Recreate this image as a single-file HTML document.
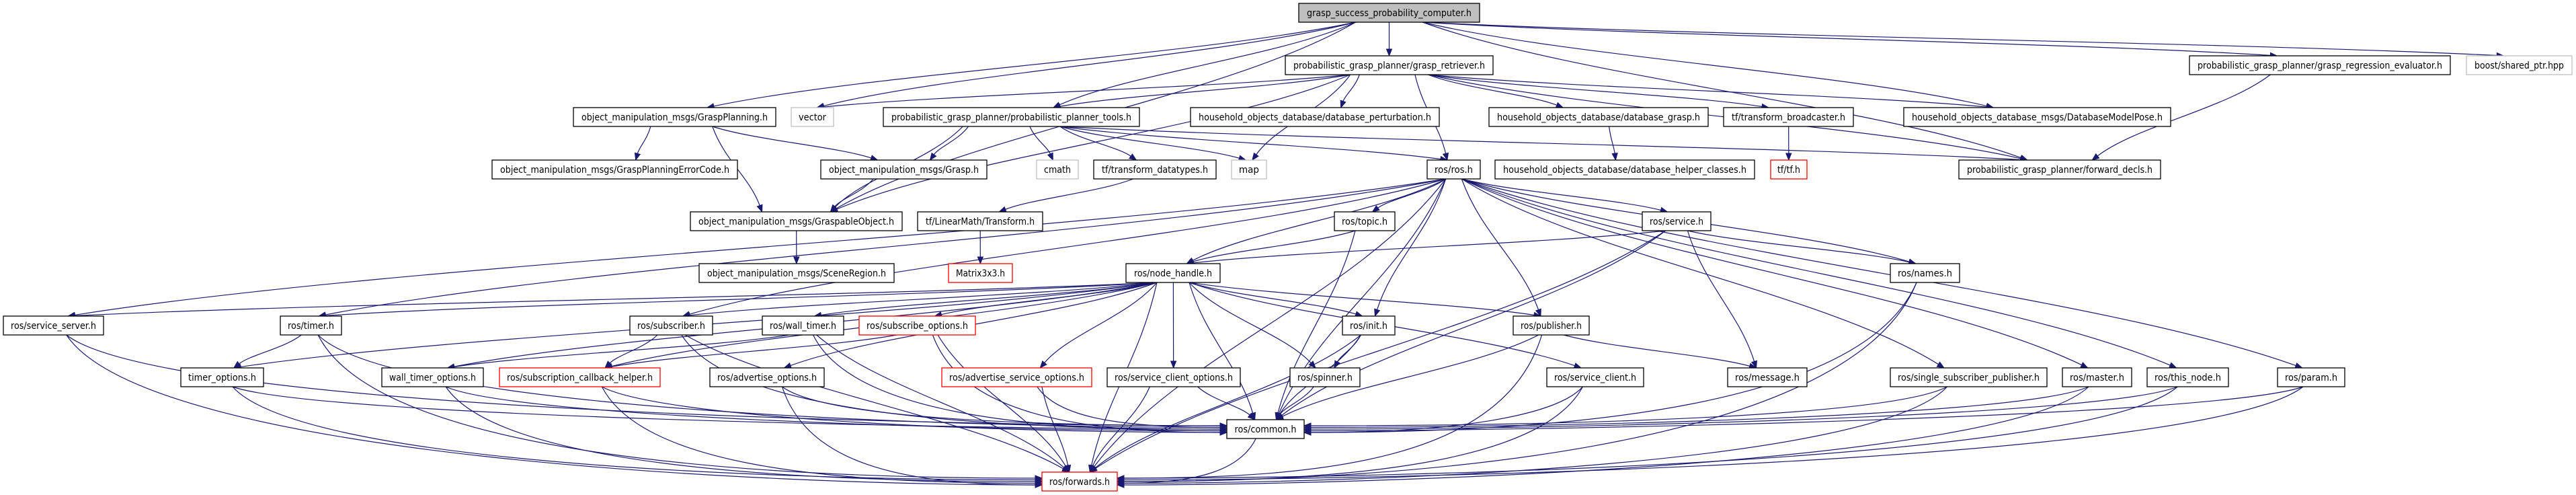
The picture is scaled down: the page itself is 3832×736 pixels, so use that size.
<!DOCTYPE html>
<html><head><meta charset="utf-8"><style>
html,body{margin:0;padding:0;background:#fff;}
svg{display:block;}
text{font-family:"DejaVu Sans","Liberation Sans",sans-serif;font-size:14px;fill:#000;}
</style></head><body>
<svg id="s" width="3832" height="736" viewBox="0 0 3832 736" xmlns="http://www.w3.org/2000/svg">
<g id="edges" fill="none" stroke="#191970" stroke-width="1.2"></g>
<g id="arrows" fill="#191970" stroke="#191970"></g>
<g id="nodes" stroke-width="1.3">
<g id="gs"><rect x="1932" y="5" width="269" height="28" fill="#bfbfbf" stroke="#000"/><text x="2066.5" y="24" text-anchor="middle" textLength="245" lengthAdjust="spacingAndGlyphs">grasp_success_probability_computer.h</text></g>
<g id="gr"><rect x="1912" y="83" width="309" height="28" fill="#fff" stroke="#000"/><text x="2066.5" y="102" text-anchor="middle" textLength="285" lengthAdjust="spacingAndGlyphs">probabilistic_grasp_planner/grasp_retriever.h</text></g>
<g id="re"><rect x="3257" y="83" width="388" height="28" fill="#fff" stroke="#000"/><text x="3451" y="102" text-anchor="middle" textLength="364" lengthAdjust="spacingAndGlyphs">probabilistic_grasp_planner/grasp_regression_evaluator.h</text></g>
<g id="bo"><rect x="3669" y="83" width="157" height="28" fill="#fff" stroke="#bfbfbf"/><text x="3747.5" y="102" text-anchor="middle" textLength="133" lengthAdjust="spacingAndGlyphs">boost/shared_ptr.hpp</text></g>
<g id="gp"><rect x="853" y="160" width="301" height="28" fill="#fff" stroke="#000"/><text x="1003.5" y="179" text-anchor="middle" textLength="277" lengthAdjust="spacingAndGlyphs">object_manipulation_msgs/GraspPlanning.h</text></g>
<g id="ve"><rect x="1177" y="160" width="63" height="28" fill="#fff" stroke="#bfbfbf"/><text x="1208.5" y="179" text-anchor="middle" textLength="41" lengthAdjust="spacingAndGlyphs">vector</text></g>
<g id="pt"><rect x="1314" y="160" width="381" height="28" fill="#fff" stroke="#000"/><text x="1504.5" y="179" text-anchor="middle" textLength="357" lengthAdjust="spacingAndGlyphs">probabilistic_grasp_planner/probabilistic_planner_tools.h</text></g>
<g id="dp"><rect x="1771" y="160" width="370" height="28" fill="#fff" stroke="#000"/><text x="1956" y="179" text-anchor="middle" textLength="346" lengthAdjust="spacingAndGlyphs">household_objects_database/database_perturbation.h</text></g>
<g id="dg"><rect x="2215" y="160" width="326" height="28" fill="#fff" stroke="#000"/><text x="2378" y="179" text-anchor="middle" textLength="302" lengthAdjust="spacingAndGlyphs">household_objects_database/database_grasp.h</text></g>
<g id="tb"><rect x="2564" y="160" width="193" height="28" fill="#fff" stroke="#000"/><text x="2660.5" y="179" text-anchor="middle" textLength="169" lengthAdjust="spacingAndGlyphs">tf/transform_broadcaster.h</text></g>
<g id="dm"><rect x="2832" y="160" width="397" height="28" fill="#fff" stroke="#000"/><text x="3030.5" y="179" text-anchor="middle" textLength="373" lengthAdjust="spacingAndGlyphs">household_objects_database_msgs/DatabaseModelPose.h</text></g>
<g id="ec"><rect x="732" y="238" width="365" height="28" fill="#fff" stroke="#000"/><text x="914.5" y="257" text-anchor="middle" textLength="341" lengthAdjust="spacingAndGlyphs">object_manipulation_msgs/GraspPlanningErrorCode.h</text></g>
<g id="gh"><rect x="1221" y="238" width="247" height="28" fill="#fff" stroke="#000"/><text x="1344.5" y="257" text-anchor="middle" textLength="223" lengthAdjust="spacingAndGlyphs">object_manipulation_msgs/Grasp.h</text></g>
<g id="cm"><rect x="1542" y="238" width="62" height="28" fill="#fff" stroke="#bfbfbf"/><text x="1573" y="257" text-anchor="middle" textLength="40" lengthAdjust="spacingAndGlyphs">cmath</text></g>
<g id="td"><rect x="1627" y="238" width="182" height="28" fill="#fff" stroke="#000"/><text x="1718" y="257" text-anchor="middle" textLength="158" lengthAdjust="spacingAndGlyphs">tf/transform_datatypes.h</text></g>
<g id="ma"><rect x="1832" y="238" width="52" height="28" fill="#fff" stroke="#bfbfbf"/><text x="1858" y="257" text-anchor="middle" textLength="30" lengthAdjust="spacingAndGlyphs">map</text></g>
<g id="ro"><rect x="2123" y="238" width="79" height="28" fill="#fff" stroke="#000"/><text x="2162.5" y="257" text-anchor="middle" textLength="57" lengthAdjust="spacingAndGlyphs">ros/ros.h</text></g>
<g id="hc"><rect x="2224" y="238" width="386" height="28" fill="#fff" stroke="#000"/><text x="2417" y="257" text-anchor="middle" textLength="362" lengthAdjust="spacingAndGlyphs">household_objects_database/database_helper_classes.h</text></g>
<g id="tf"><rect x="2634" y="238" width="54" height="28" fill="#fff" stroke="#ff0000"/><text x="2661" y="257" text-anchor="middle" textLength="34" lengthAdjust="spacingAndGlyphs">tf/tf.h</text></g>
<g id="fd"><rect x="2914" y="238" width="300" height="28" fill="#fff" stroke="#000"/><text x="3064" y="257" text-anchor="middle" textLength="276" lengthAdjust="spacingAndGlyphs">probabilistic_grasp_planner/forward_decls.h</text></g>
<g id="go"><rect x="1027" y="315" width="315" height="28" fill="#fff" stroke="#000"/><text x="1184.5" y="334" text-anchor="middle" textLength="291" lengthAdjust="spacingAndGlyphs">object_manipulation_msgs/GraspableObject.h</text></g>
<g id="tr"><rect x="1365" y="315" width="186" height="28" fill="#fff" stroke="#000"/><text x="1458" y="334" text-anchor="middle" textLength="162" lengthAdjust="spacingAndGlyphs">tf/LinearMath/Transform.h</text></g>
<g id="to"><rect x="1985" y="315" width="90" height="28" fill="#fff" stroke="#000"/><text x="2030" y="334" text-anchor="middle" textLength="68" lengthAdjust="spacingAndGlyphs">ros/topic.h</text></g>
<g id="se"><rect x="2443" y="315" width="102" height="28" fill="#fff" stroke="#000"/><text x="2494" y="334" text-anchor="middle" textLength="80" lengthAdjust="spacingAndGlyphs">ros/service.h</text></g>
<g id="sr"><rect x="1040" y="392" width="290" height="28" fill="#fff" stroke="#000"/><text x="1185" y="411" text-anchor="middle" textLength="266" lengthAdjust="spacingAndGlyphs">object_manipulation_msgs/SceneRegion.h</text></g>
<g id="mx"><rect x="1411" y="392" width="95" height="28" fill="#fff" stroke="#ff0000"/><text x="1458.5" y="411" text-anchor="middle" textLength="73" lengthAdjust="spacingAndGlyphs">Matrix3x3.h</text></g>
<g id="nh"><rect x="1675" y="392" width="140" height="28" fill="#fff" stroke="#000"/><text x="1745" y="411" text-anchor="middle" textLength="116" lengthAdjust="spacingAndGlyphs">ros/node_handle.h</text></g>
<g id="na"><rect x="2812" y="392" width="103" height="28" fill="#fff" stroke="#000"/><text x="2863.5" y="411" text-anchor="middle" textLength="81" lengthAdjust="spacingAndGlyphs">ros/names.h</text></g>
<g id="ss"><rect x="5" y="470" width="149" height="28" fill="#fff" stroke="#000"/><text x="79.5" y="489" text-anchor="middle" textLength="127" lengthAdjust="spacingAndGlyphs">ros/service_server.h</text></g>
<g id="ti"><rect x="417" y="470" width="91" height="28" fill="#fff" stroke="#000"/><text x="462.5" y="489" text-anchor="middle" textLength="69" lengthAdjust="spacingAndGlyphs">ros/timer.h</text></g>
<g id="sb"><rect x="937" y="470" width="123" height="28" fill="#fff" stroke="#000"/><text x="998.5" y="489" text-anchor="middle" textLength="101" lengthAdjust="spacingAndGlyphs">ros/subscriber.h</text></g>
<g id="wt"><rect x="1134" y="470" width="121" height="28" fill="#fff" stroke="#000"/><text x="1194.5" y="489" text-anchor="middle" textLength="99" lengthAdjust="spacingAndGlyphs">ros/wall_timer.h</text></g>
<g id="so"><rect x="1278" y="470" width="173" height="28" fill="#fff" stroke="#ff0000"/><text x="1364.5" y="489" text-anchor="middle" textLength="151" lengthAdjust="spacingAndGlyphs">ros/subscribe_options.h</text></g>
<g id="in"><rect x="1997" y="470" width="78" height="28" fill="#fff" stroke="#000"/><text x="2036" y="489" text-anchor="middle" textLength="56" lengthAdjust="spacingAndGlyphs">ros/init.h</text></g>
<g id="pu"><rect x="2251" y="470" width="113" height="28" fill="#fff" stroke="#000"/><text x="2307.5" y="489" text-anchor="middle" textLength="91" lengthAdjust="spacingAndGlyphs">ros/publisher.h</text></g>
<g id="t2"><rect x="269" y="547" width="123" height="28" fill="#fff" stroke="#000"/><text x="330.5" y="566" text-anchor="middle" textLength="101" lengthAdjust="spacingAndGlyphs">timer_options.h</text></g>
<g id="wo"><rect x="568" y="547" width="151" height="28" fill="#fff" stroke="#000"/><text x="643.5" y="566" text-anchor="middle" textLength="129" lengthAdjust="spacingAndGlyphs">wall_timer_options.h</text></g>
<g id="sc"><rect x="743" y="547" width="239" height="28" fill="#fff" stroke="#ff0000"/><text x="862.5" y="566" text-anchor="middle" textLength="217" lengthAdjust="spacingAndGlyphs">ros/subscription_callback_helper.h</text></g>
<g id="ao"><rect x="1056" y="547" width="170" height="28" fill="#fff" stroke="#000"/><text x="1141" y="566" text-anchor="middle" textLength="148" lengthAdjust="spacingAndGlyphs">ros/advertise_options.h</text></g>
<g id="as"><rect x="1401" y="547" width="223" height="28" fill="#fff" stroke="#ff0000"/><text x="1512.5" y="566" text-anchor="middle" textLength="201" lengthAdjust="spacingAndGlyphs">ros/advertise_service_options.h</text></g>
<g id="co"><rect x="1647" y="547" width="198" height="28" fill="#fff" stroke="#000"/><text x="1746" y="566" text-anchor="middle" textLength="176" lengthAdjust="spacingAndGlyphs">ros/service_client_options.h</text></g>
<g id="sp"><rect x="1919" y="547" width="104" height="28" fill="#fff" stroke="#000"/><text x="1971" y="566" text-anchor="middle" textLength="82" lengthAdjust="spacingAndGlyphs">ros/spinner.h</text></g>
<g id="cl"><rect x="2301" y="547" width="144" height="28" fill="#fff" stroke="#000"/><text x="2373" y="566" text-anchor="middle" textLength="122" lengthAdjust="spacingAndGlyphs">ros/service_client.h</text></g>
<g id="me"><rect x="2570" y="547" width="118" height="28" fill="#fff" stroke="#000"/><text x="2629" y="566" text-anchor="middle" textLength="96" lengthAdjust="spacingAndGlyphs">ros/message.h</text></g>
<g id="sq"><rect x="2812" y="547" width="233" height="28" fill="#fff" stroke="#000"/><text x="2928.5" y="566" text-anchor="middle" textLength="211" lengthAdjust="spacingAndGlyphs">ros/single_subscriber_publisher.h</text></g>
<g id="mt"><rect x="3068" y="547" width="103" height="28" fill="#fff" stroke="#000"/><text x="3119.5" y="566" text-anchor="middle" textLength="81" lengthAdjust="spacingAndGlyphs">ros/master.h</text></g>
<g id="tn"><rect x="3194" y="547" width="121" height="28" fill="#fff" stroke="#000"/><text x="3254.5" y="566" text-anchor="middle" textLength="99" lengthAdjust="spacingAndGlyphs">ros/this_node.h</text></g>
<g id="pa"><rect x="3388" y="547" width="100" height="28" fill="#fff" stroke="#000"/><text x="3438" y="566" text-anchor="middle" textLength="78" lengthAdjust="spacingAndGlyphs">ros/param.h</text></g>
<g id="cn"><rect x="1825" y="624" width="115" height="28" fill="#fff" stroke="#000"/><text x="1882.5" y="643" text-anchor="middle" textLength="92" lengthAdjust="spacingAndGlyphs">ros/common.h</text></g>
<g id="fw"><rect x="1550" y="702" width="112" height="28" fill="#fff" stroke="#ff0000"/><text x="1606" y="721" text-anchor="middle" textLength="90" lengthAdjust="spacingAndGlyphs">ros/forwards.h</text></g>
</g>
</svg>
<script>
(function(){
var NS="http://www.w3.org/2000/svg";
function box(id){var r=document.querySelector('#'+id+' rect');var x=+r.getAttribute('x'),y=+r.getAttribute('y'),w=+r.getAttribute('width'),h=+r.getAttribute('height');return{x1:x,x2:x+w,y1:y,y2:y+h,cx:x+w/2,cy:y+h/2};}
var E={
gs:['gr','gp','ve','pt','go','dm','fd','re','bo'],
gr:['ve','pt','go','dp','ro','dg','tb','dm','fd','ma'],
gp:['ec','gh','go'],
pt:['gh','go','cm','td','ma','ro','fd'],
gh:['go'],go:['sr'],td:['tr'],tr:['mx'],dg:['hc'],tb:['tf'],re:['fd'],
ro:['to','se','nh','in','pu','cn','na','sq','mt','tn','pa','ss','sb','ti','fw'],
to:['nh','cn'],
se:['nh','cn','na','me','fw'],
nh:['ss','ti','sb','wt','so','in','pu','t2','wo','sc','ao','as','co','sp','cl','cn','fw'],
ss:['cn','fw'],ti:['t2','cn','fw'],sb:['sc','cn','fw'],wt:['wo','cn','fw'],so:['sc','cn','fw'],
in:['sp','cn','fw'],pu:['me','cn','fw'],t2:['cn','fw'],wo:['cn','fw'],sc:['cn','fw'],ao:['cn','fw'],
as:['cn','fw'],co:['cn','fw'],sp:['cn'],cl:['cn','fw'],sq:['cn','fw'],mt:['cn','fw'],tn:['cn','fw'],
pa:['cn','fw'],na:['cn','fw'],cn:['fw']
};
var eg=document.getElementById('edges'),ag=document.getElementById('arrows');
var cnt={};
for(var p in E){var P=box(p);E[p].forEach(function(c){
 var C=box(c);var sx,sy,ex,ey,c1x,c1y,c2x,c2y;
 var dy=C.y1-P.y2;var dx=C.cx-P.cx;
 cnt[c]=(cnt[c]||0)+1;var k=cnt[c];
 var side=(c==='cn'||c==='fw')&&Math.abs(dx)>3*(dy+20);
 if(side){
  sx=Math.min(Math.max(C.cx,P.x1+10),P.x2-10)*0.3+P.cx*0.7; sy=P.y2;
  ex=dx>0?C.x1:C.x2;
  ey=C.cy+((k%5)-2)*2.5;
  c1x=sx+dx*0.08;c1y=sy+Math.max(dy*0.9,25);
  c2x=ex-(dx>0?1:-1)*Math.min(Math.abs(dx)*0.45,400);c2y=ey;
 } else {
  sx=Math.min(Math.max(C.cx,P.x1+10),P.x2-10)*0.4+P.cx*0.6; sy=P.y2;
  ex=Math.min(Math.max(P.cx,C.x1+12),C.x2-12)*0.35+C.cx*0.65; ey=C.y1;
  var m=Math.max(dy*0.4,10);
  var ddx2=ex-sx;
  c1x=sx+ddx2*0.25;c1y=sy+m;c2x=ex-ddx2*0.25;c2y=ey-m;
 }
 var ddx=ex-c2x,ddy=ey-c2y,L=Math.sqrt(ddx*ddx+ddy*ddy)||1;ddx/=L;ddy/=L;
 var bx=ex-ddx*10,by=ey-ddy*10;
 var path=document.createElementNS(NS,'path');
 path.setAttribute('d','M'+sx+','+sy+' C'+c1x+','+c1y+' '+c2x+','+c2y+' '+bx+','+by);
 eg.appendChild(path);
 var nx=-ddy,ny=ddx;
 var poly=document.createElementNS(NS,'polygon');
 poly.setAttribute('points',ex+','+ey+' '+(bx+nx*4)+','+(by+ny*4)+' '+(bx-nx*4)+','+(by-ny*4));
 ag.appendChild(poly);
});}
})();
</script>
</body></html>
